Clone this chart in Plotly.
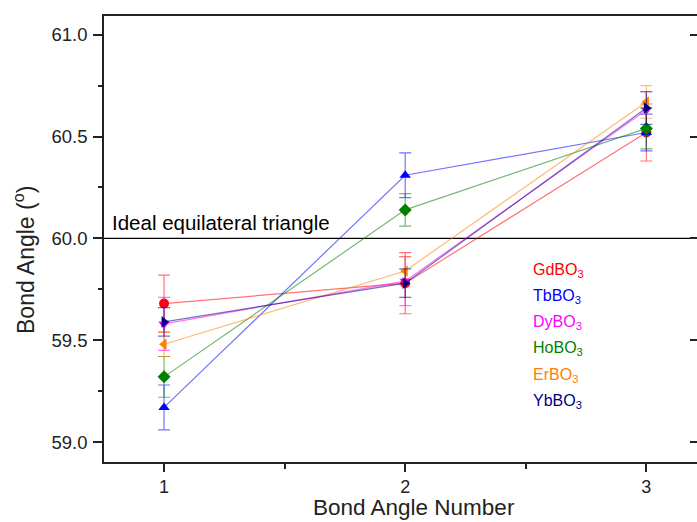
import plotly.graph_objects as go

# Bond angle index along the x axis
angle_number = [1, 2, 3]

compounds = ["GdBO<sub>3</sub>", "TbBO<sub>3</sub>", "DyBO<sub>3</sub>",
             "HoBO<sub>3</sub>", "ErBO<sub>3</sub>", "YbBO<sub>3</sub>"]

# Bond angles (degrees) for each compound
gd_angle = [59.68, 59.78, 60.52]
tb_angle = [59.17, 60.31, 60.52]
dy_angle = [59.58, 59.79, 60.63]
ho_angle = [59.32, 60.14, 60.54]
er_angle = [59.48, 59.84, 60.67]
yb_angle = [59.59, 59.78, 60.64]

# Uncertainties (degrees)
gd_err = [0.14, 0.15, 0.14]
tb_err = [0.11, 0.11, 0.09]
dy_err = [0.13, 0.12, 0.09]
ho_err = [0.10, 0.08, 0.10]
er_err = [0.06, 0.07, 0.08]
yb_err = [0.07, 0.07, 0.08]

ideal_angle = 60.0

y_ticks = [59.0, 59.5, 60.0, 60.5, 61.0]
y_minor = [59.25, 59.75, 60.25, 60.75]
x_minor = [1.5, 2.5]

angles = [gd_angle, tb_angle, dy_angle, ho_angle, er_angle, yb_angle]
errors = [gd_err, tb_err, dy_err, ho_err, er_err, yb_err]
colors = [(255, 0, 0), (0, 0, 255), (255, 0, 255), (0, 128, 0), (255, 128, 0), (0, 0, 128)]
symbols = ["circle", "triangle-up", "triangle-down", "diamond", "triangle-left", "triangle-right"]

W, H = 697, 522
L, R, T, B = 104, 0, 16, 60
FONT = "Liberation Sans, Arial, sans-serif"
INK = "#222"


def px(x):
    return (x - L) / (W - L - R)


def py(y):
    return 1 - (y - T) / (H - T - B)


fig = go.Figure()

for name, ys, err, c, sym in zip(compounds, angles, errors, colors, symbols):
    solid = "rgb(%d,%d,%d)" % c
    light = "rgba(%d,%d,%d,0.55)" % c
    fig.add_trace(go.Scatter(
        x=angle_number, y=ys, mode="lines+markers", name=name,
        line=dict(color=light, width=1.2),
        marker=dict(color=solid, symbol=sym, size=10),
        error_y=dict(type="data", array=err, visible=True,
                     color=light, thickness=1.2, width=6),
        showlegend=False,
    ))

# Reference line for an ideal equilateral triangle
fig.add_hline(y=ideal_angle, line=dict(color="black", width=1.2), layer="below")
fig.add_annotation(x=0.776, y=ideal_angle, xref="x", yref="y", text="Ideal equilateral triangle",
                   showarrow=False, xanchor="left", yanchor="bottom", yshift=2,
                   font=dict(size=20.5, color="black"))

# Colour-coded text legend
for i, (name, c) in enumerate(zip(compounds, colors)):
    fig.add_annotation(x=px(531), y=py(270 + 26.3 * i), xref="paper", yref="paper",
                       text=name, showarrow=False, xanchor="left", yanchor="middle",
                       font=dict(size=16, color="rgb(%d,%d,%d)" % c))

# Axis titles
fig.add_annotation(x=px(414), y=py(507), xref="paper", yref="paper",
                   text="Bond Angle Number", showarrow=False,
                   xanchor="center", yanchor="middle", font=dict(size=22.5, color=INK))
fig.add_annotation(x=px(24), y=py(260), xref="paper", yref="paper",
                   text="Bond Angle (<sup>o</sup>)", showarrow=False, textangle=-90,
                   xanchor="center", yanchor="middle", font=dict(size=23, color=INK))

y_range = [58.902, 61.092]
x_range = [0.751, 3.21]

fig.update_layout(
    width=W, height=H,
    margin=dict(l=L, r=R, t=T, b=B),
    plot_bgcolor="white", paper_bgcolor="white",
    font=dict(family=FONT, size=18.5, color=INK),
    xaxis=dict(
        range=x_range, tickvals=angle_number, ticks="outside", ticklen=8, tickwidth=1.5,
        tickcolor=INK, ticklabelstandoff=0, tickfont=dict(size=18),
        minor=dict(tickvals=x_minor, ticks="outside", ticklen=5, tickwidth=1.5, tickcolor=INK),
        showline=True, linecolor=INK, linewidth=1.5, mirror=True,
        showgrid=False, zeroline=False,
    ),
    yaxis=dict(
        range=y_range, tickvals=y_ticks, tickformat=".1f",
        ticks="outside", ticklen=9, tickwidth=1.5, tickcolor=INK, ticklabelstandoff=2,
        minor=dict(tickvals=y_minor, ticks="outside", ticklen=4.5,
                   tickwidth=1.5, tickcolor=INK),
        showline=True, linecolor=INK, linewidth=1.5, mirror=False,
        showgrid=False, zeroline=False,
    ),
    yaxis2=dict(
        range=y_range, overlaying="y", side="right", showticklabels=False,
        tickvals=y_ticks, ticks="inside", ticklen=7, tickwidth=1.5,
        tickcolor=INK, showline=False, showgrid=False, zeroline=False,
    ),
)

# invisible trace to activate the right-hand tick axis
fig.add_trace(go.Scatter(x=[None], y=[None], yaxis="y2", showlegend=False, hoverinfo="skip"))

fig.write_html("out.html")
